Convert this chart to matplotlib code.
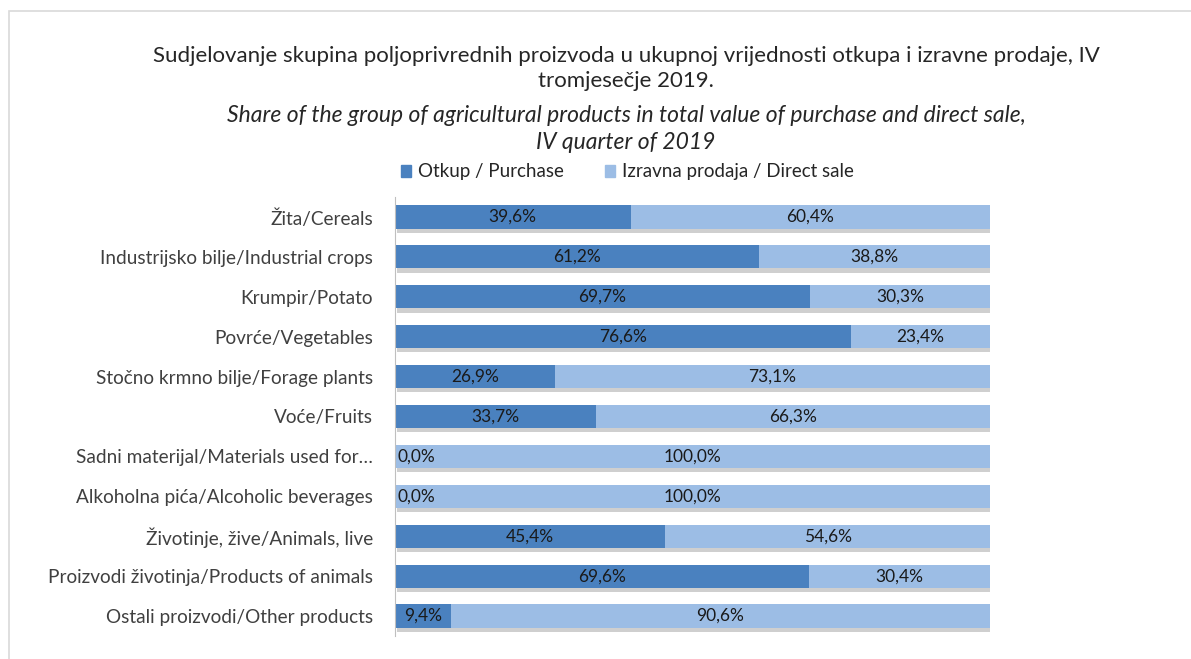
import matplotlib
matplotlib.use("Agg")
import matplotlib.pyplot as plt
import matplotlib.patheffects as pe
from matplotlib.patches import Rectangle

plt.rcParams['font.family'] = ['Lato', 'DejaVu Sans']

categories = [
    "Žita/Cereals",
    "Industrijsko bilje/Industrial crops",
    "Krumpir/Potato",
    "Povrće/Vegetables",
    "Stočno krmno bilje/Forage plants",
    "Voće/Fruits",
    "Sadni materijal/Materials used for…",
    "Alkoholna pića/Alcoholic beverages",
    "Životinje, žive/Animals, live",
    "Proizvodi životinja/Products of animals",
    "Ostali proizvodi/Other products",
]
purchase = [39.6, 61.2, 69.7, 76.6, 26.9, 33.7, 0.0, 0.0, 45.4, 69.6, 9.4]
direct_sale = [60.4, 38.8, 30.3, 23.4, 73.1, 66.3, 100.0, 100.0, 54.6, 30.4, 90.6]

title_hr = "Sudjelovanje skupina poljoprivrednih proizvoda u ukupnoj vrijednosti otkupa i izravne prodaje, IV\ntromjesečje 2019."
title_en = "Share of the group of agricultural products in total value of purchase and direct sale,\nIV quarter of 2019"

c_purchase = "#4a81bf"
c_direct = "#9cbde5"

fig = plt.figure(figsize=(11.91, 6.59), dpi=100)
ax = fig.add_axes([395/1191, 1 - 636/659, (990 - 395)/1191, 439/659])

y = list(range(len(categories)))
shadow = [pe.SimplePatchShadow(offset=(1.5, -3), shadow_rgbFace='#777777', alpha=0.35), pe.Normal()]

b1 = ax.barh(y, purchase, height=0.58, color=c_purchase)
b2 = ax.barh(y, direct_sale, left=purchase, height=0.58, color=c_direct)
for bars in (b1, b2):
    for p in bars:
        p.set_path_effects(shadow)

for i in y:
    p = purchase[i]
    d = direct_sale[i]
    if p < 1:
        ax.text(0.4, i, f"{p:.1f}%".replace('.', ','), ha='left', va='center',
                fontsize=12.5, color='#1a1a1a')
    else:
        ax.text(p / 2, i, f"{p:.1f}%".replace('.', ','), ha='center', va='center',
                fontsize=12.5, color='#1a1a1a')
    ax.text(p + d / 2, i, f"{d:.1f}%".replace('.', ','), ha='center', va='center',
            fontsize=12.5, color='#1a1a1a')

ax.set_xlim(0, 100)
ax.set_ylim(len(categories) - 0.5, -0.5)
ax.set_yticks(y)
ax.set_yticklabels(categories, fontsize=13.7, color='#404040')
ax.tick_params(axis='y', length=0, pad=16)
ax.set_xticks([])
for s in ['top', 'right', 'bottom']:
    ax.spines[s].set_visible(False)
ax.spines['left'].set_color('#bfbfbf')

fig.text(626/1191, 1 - 68.5/659, title_hr, ha='center', va='center', fontsize=16,
         color='#262626', linespacing=1.35)
fig.text(626/1191, 1 - 129/659, title_en, ha='center', va='center', fontsize=16.5,
         color='#262626', style='italic', linespacing=1.35)

handles = [Rectangle((0, 0), 1, 1, color=c_purchase), Rectangle((0, 0), 1, 1, color=c_direct)]
fig.legend(handles=handles, labels=["Otkup / Purchase", "Izravna prodaja / Direct sale"],
           loc='center', bbox_to_anchor=(627/1191, 1 - 172/659),
           ncol=2, frameon=False, fontsize=13.5, handlelength=0.55, handleheight=0.55,
           handletextpad=0.35, columnspacing=2.2, labelcolor='#262626')

fig.patches.append(Rectangle((9/1191, -0.1), 1.2, 1 - 11/659 + 0.1, transform=fig.transFigure,
                             fill=False, edgecolor='#d9d9d9', linewidth=1.2))

fig.savefig("out.png", dpi=100)
